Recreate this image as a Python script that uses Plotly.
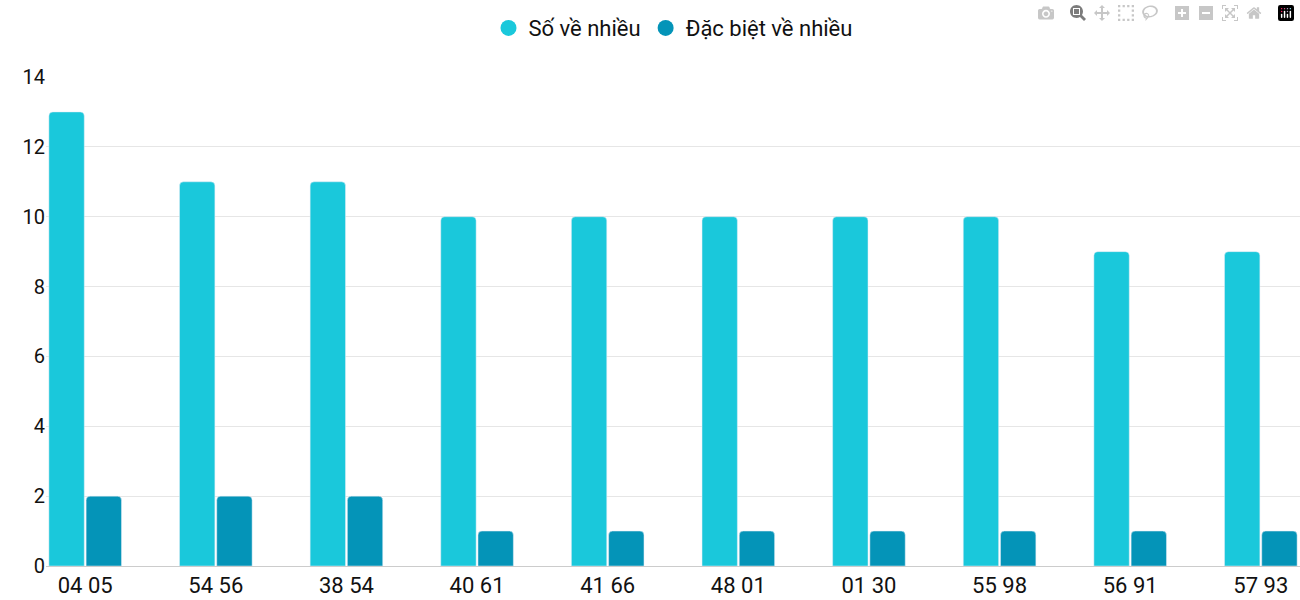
import plotly.graph_objects as go

categories = ["04 05", "54 56", "38 54", "40 61", "41 66", "48 01", "01 30", "55 98", "56 91", "57 93"]
so_ve_nhieu = [13, 11, 11, 10, 10, 10, 10, 10, 9, 9]
dac_biet = [2, 2, 2, 1, 1, 1, 1, 1, 1, 1]
names = ["Số về nhiều", "Đặc biệt về nhiều"]
colors = ["#1AC8DB", "#0494B8"]

fig = go.Figure()
for vals, nm, c in zip([so_ve_nhieu, dac_biet], names, colors):
    fig.add_bar(x=categories, y=vals, name=nm, showlegend=False,
                marker=dict(color=c, cornerradius=4))
for nm, c in zip(names, colors):
    fig.add_scatter(x=[None], y=[None], mode="markers", name=nm,
                    marker=dict(color=c, size=26, symbol="circle"))
fig.update_layout(
    width=1300, height=600, barmode="group", bargap=0.43, bargroupgap=0.05,
    plot_bgcolor="white", paper_bgcolor="white",
    font=dict(family="Roboto", size=20, color="#111"),
    margin=dict(l=46, r=0, t=77, b=34),
    legend=dict(orientation="h", x=0.5, xanchor="center", y=1.1, yanchor="middle",
                font=dict(size=22), itemsizing="trace"),
    xaxis=dict(range=[-0.3, 9.3], showline=True, linecolor="#ccc", ticks="", tickfont=dict(size=22)),
    yaxis=dict(range=[0, 14], dtick=2, gridcolor="#e6e6e6", zeroline=False, tickfont=dict(size=20)),
)
fig.write_html("out.html", post_script="document.body.style.margin='0';document.body.style.overflow='hidden';")
